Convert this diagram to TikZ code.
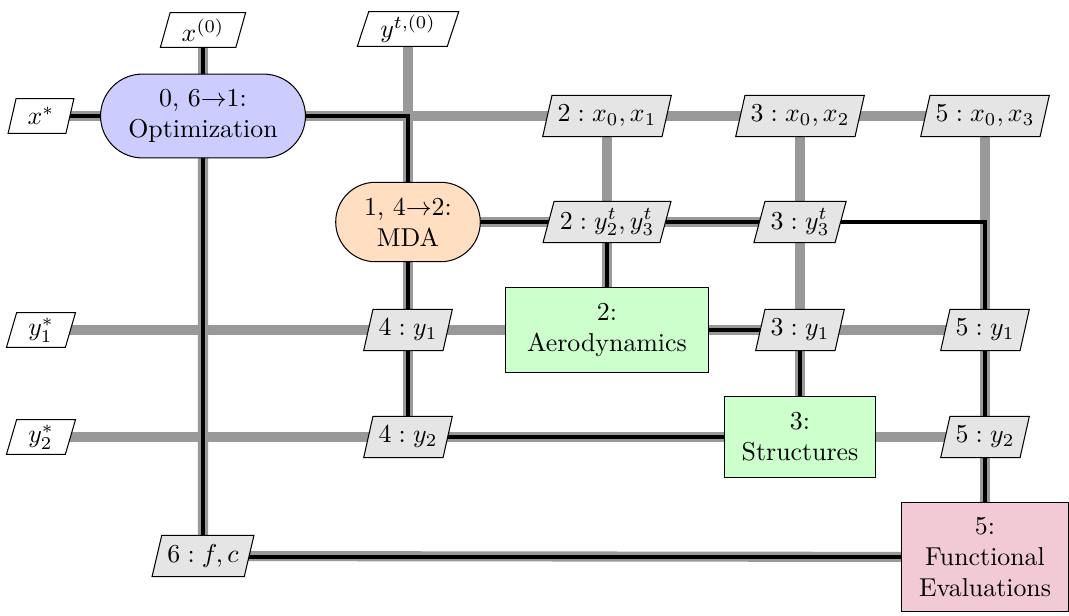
\documentclass[tikz,border=0pt]{standalone}
\usetikzlibrary{shapes.geometric,shapes.misc}
\pgfdeclarelayer{datalayer}
\pgfdeclarelayer{proclayer}
\pgfsetlayers{datalayer,proclayer,main}
\definecolor{mdaOrange}{RGB}{255,222,193}
\definecolor{funcPink}{RGB}{241,202,214}
\definecolor{linkGray}{RGB}{153,153,153}

\begin{document}
\begin{tikzpicture}[x=0.0136cm, y=-0.0136cm,
  iobox/.style={draw, trapezium, trapezium left angle=71, trapezium right angle=109,
    trapezium stretches=true, fill=white, minimum height=0.47cm,
    inner xsep=4.5pt, inner ysep=1pt},
  datbox/.style={iobox, fill=gray!20, minimum height=0.56cm, inner xsep=2.2pt},
  optbox/.style={draw, rounded rectangle, align=center, fill=blue!20,
    minimum width=3.02cm, minimum height=1.14cm},
  mdabox/.style={draw, rounded rectangle, align=center, fill=mdaOrange,
    minimum width=2.2cm, minimum height=1.08cm},
  discbox/.style={draw, rectangle, align=center, fill=green!20},
  funcbox/.style={draw, rectangle, align=center, fill=funcPink,
    minimum width=2.26cm, minimum height=1.48cm},
  datalink/.style={draw=linkGray, line width=3.9pt},
  proclink/.style={draw=black, line width=1.2pt}]

\useasboundingbox (0,0) rectangle (1069,615);

% diagonal: the components
\node[optbox] (opt) at (203,116) {0, 6$\rightarrow$1:\\Optimization};
\node[mdabox] (mda) at (408,222) {1, 4$\rightarrow$2:\\MDA};
\node[discbox, minimum width=2.75cm, minimum height=1.16cm] (aero) at (607,330) {2:\\Aerodynamics};
\node[discbox, minimum width=2.05cm, minimum height=1.09cm] (struct) at (800,437) {3:\\Structures};
\node[funcbox] (func) at (985,557) {5:\\Functional\\Evaluations};

% inputs and outputs
\node[iobox] (xIn)   at (203,30)  {$x^{(0)}$};
\node[iobox] (yIn)   at (408,29)  {$y^{t,(0)}$};
\node[iobox] (xOut)  at (41,116)  {$x^*$};
\node[iobox] (y1Out) at (41,330)  {$y_1^*$};
\node[iobox] (y2Out) at (41,437)  {$y_2^*$};

% off-diagonal: data passed between components
\node[datbox] (x1)   at (607,116) {$2 : x_0, x_1$};
\node[datbox] (x2)   at (800,116) {$3 : x_0, x_2$};
\node[datbox] (x3)   at (985,116) {$5 : x_0, x_3$};
\node[datbox] (yt23) at (607,222) {$2 : y_2^t, y_3^t$};
\node[datbox] (yt3)  at (800,222) {$3 : y_3^t$};
\node[datbox] (y1M)  at (408,330) {$4 : y_1$};
\node[datbox] (y1S)  at (800,330) {$3 : y_1$};
\node[datbox] (y1F)  at (985,330) {$5 : y_1$};
\node[datbox] (y2M)  at (408,437) {$4 : y_2$};
\node[datbox] (y2F)  at (985,437) {$5 : y_2$};
\node[datbox] (fc)   at (203,556) {$6 : f, c$};

% data connections (grey)
\begin{pgfonlayer}{datalayer}
  \draw[datalink] (xIn.center) -- (opt.center);
  \draw[datalink] (yIn.center) -- (mda.center);
  \draw[datalink] (xOut.center) -- (x3.center);
  \draw[datalink] (x1.center) -- (aero.center);
  \draw[datalink] (x2.center) -- (struct.center);
  \draw[datalink] (x3.center) -- (func.center);
  \draw[datalink] (mda.center) -- (yt3.center);
  \draw[datalink] (yt23.center) -- (aero.center);
  \draw[datalink] (yt3.center) -- (struct.center);
  \draw[datalink] (y1Out.center) -- (y1F.center);
  \draw[datalink] (y2Out.center) -- (y2F.center);
  \draw[datalink] (mda.center) -- (y2M.center);
  \draw[datalink] (y1S.center) -- (struct.center);
  \draw[datalink] (y1F.center) -- (func.center);
  \draw[datalink] (opt.center) -- (fc.center) -- (func.center);
\end{pgfonlayer}

% process flow (black)
\begin{pgfonlayer}{proclayer}
  \draw[proclink] (xIn.center) -- (opt.center) -- (xOut.center);
  \draw[proclink] (opt.center) -| (mda.center);
  \draw[proclink] (mda.center) -| (aero.center);
  \draw[proclink] (aero.center) -| (struct.center);
  \draw[proclink] (struct.center) -| (mda.center);
  \draw[proclink] (mda.center) -| (func.center);
  \draw[proclink] (func.center) -| (opt.center);
\end{pgfonlayer}

\end{tikzpicture}
\end{document}
